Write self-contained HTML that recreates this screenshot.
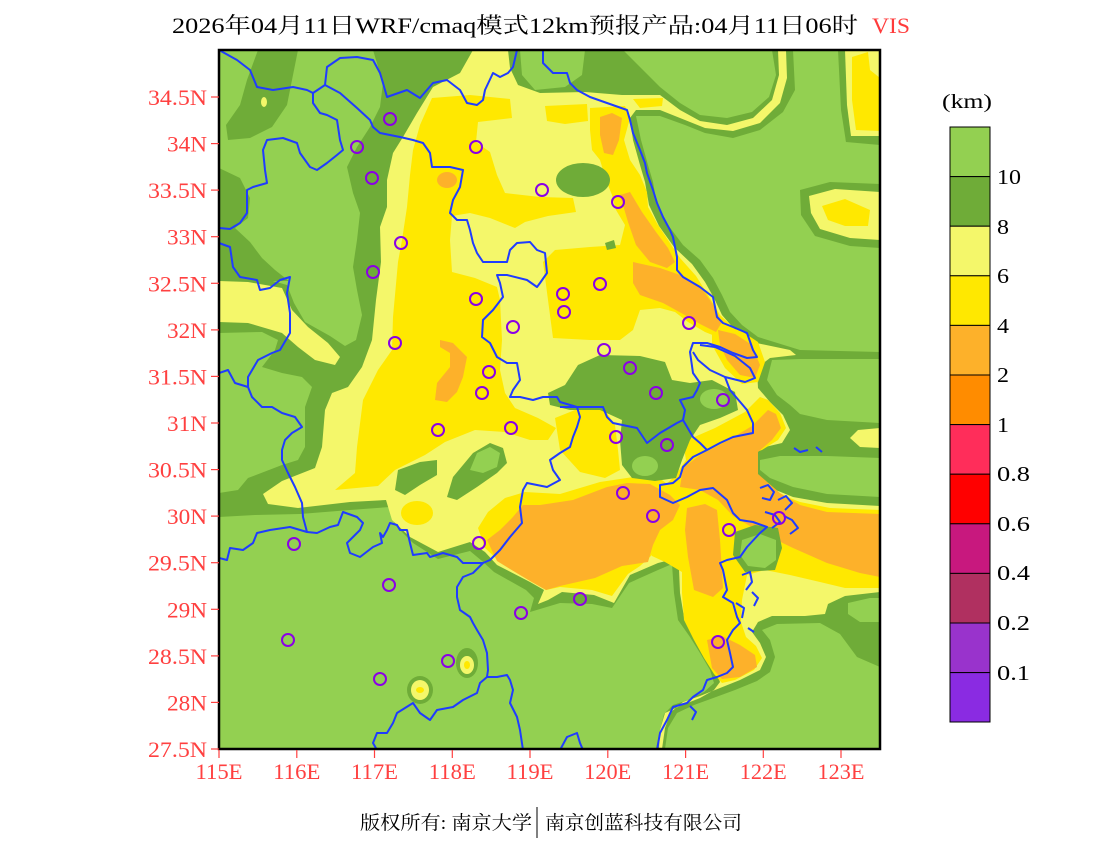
<!DOCTYPE html>
<html><head><meta charset="utf-8"><style>
html,body{margin:0;padding:0;background:#fff;}
svg{display:block;}
text{font-family:"Liberation Serif","Noto Serif CJK SC",serif;}
</style></head><body>
<svg width="1100" height="850" viewBox="0 0 1100 850" xmlns="http://www.w3.org/2000/svg">
<defs><clipPath id="pc"><rect x="219" y="50" width="661" height="699"/></clipPath></defs>
<g clip-path="url(#pc)">
<rect x="219" y="50" width="661" height="699" fill="#6fac38"/>
<g fill="#93d051">
<polygon points="219,50 373,50 383,83 380,107 370,127 357,147 347,167 353,193 360,213 357,240 353,267 357,290 362,315 356,340 345,346 330,336 305,322 294,303 287,285 262,278 219,278"/>
<polygon points="219,333 262,332 278,340 275,350 262,367 282,373 302,377 312,387 305,407 305,447 298,460 282,465 248,478 238,490 219,493"/>
<polygon points="219,517 255,515 300,514 350,510 390,507 395,525 413,543 438,559 470,551 482,561 494,572 526,590 534,598 530,612 560,603 592,604 612,608 629,583 658,570 672,564 674,593 678,620 690,637 700,653 710,670 714,683 704,692 688,700 673,705 664,714 660,730 656,749 219,749"/>
<polygon points="665,749 668,728 677,713 694,705 716,697 735,690 757,681 770,672 775,657 770,640 762,630 777,624 820,623 840,634 857,657 880,667 880,749"/>
<polygon points="636,116 660,116 685,125 705,133 733,138 760,130 783,112 795,90 793,50 840,50 841,80 843,110 846,142 880,145 880,352 800,350 758,337 742,325 730,312 722,295 713,278 700,260 683,245 668,225 657,205 653,182 648,165 641,140"/>
<polygon points="623,50 772,50 776,75 769,97 752,112 727,118 700,115 680,103 660,87"/>
<polygon points="520,50 585,50 582,75 565,87 535,90 522,75"/>
<polygon points="772,360 800,359 880,359 880,423 827,420 800,414 790,405 777,395 767,380"/>
<polygon points="760,460 780,456 827,456 880,458 880,497 827,494 793,487 770,478 760,470"/>
<polygon points="848,603 870,598 880,598 880,622 860,622 848,614"/>
</g>
<g fill="#6fac38">
<polygon points="258,50 298,50 293,75 287,105 272,127 250,138 228,140 226,125 240,105 247,80"/>
<polygon points="219,168 240,178 250,198 248,218 235,228 250,242 262,258 275,270 289,281 219,281"/>
<polygon points="838,50 880,50 880,142 846,142 841,110"/>
<polygon points="800,190 830,182 880,184 880,248 850,246 815,236 801,215"/>
<ellipse cx="420" cy="690" rx="13" ry="14"/>
<ellipse cx="467" cy="663" rx="11" ry="15"/>
</g>
<g fill="#f4f76a">
<polygon points="473,50 508,50 510,68 518,85 540,93 585,92 622,95 645,95 660,95 680,110 700,121 727,125 753,118 772,100 779,75 778,50 786,50 787,78 780,103 760,123 733,131 705,128 685,120 660,110 636,110 630,118 633,140 640,165 645,182 649,205 659,226 674,247 692,264 705,282 714,298 722,315 735,330 752,342 790,350 796,355 770,358 757,368 758,388 770,402 783,415 790,430 782,443 765,447 748,452 742,462 750,475 766,486 793,497 827,503 880,506 880,592 845,596 828,604 825,614 805,616 772,616 758,622 752,632 760,643 766,657 760,670 740,680 720,688 700,696 683,702 671,712 665,728 662,749 659,749 660,730 665,713 680,706 700,698 714,690 720,682 714,667 705,650 695,633 684,617 680,593 679,568 670,560 658,563 630,575 614,603 594,595 562,592 548,600 538,604 544,590 530,582 497,565 485,552 470,542 438,552 410,537 392,520 386,500 350,502 298,508 268,504 263,494 282,481 315,468 322,447 325,410 332,393 348,387 362,367 372,340 376,300 381,262 380,227 387,207 387,180 393,153 403,137 417,113 433,87 460,73"/>
<polygon points="219,281 248,282 282,288 292,310 308,327 328,343 340,357 335,365 315,360 298,347 282,333 248,323 219,322"/>
<polygon points="845,50 880,50 880,136 851,136 847,105"/>
<polygon points="809,196 835,189 880,192 880,240 850,238 820,229 811,213"/>
<polygon points="850,438 858,430 880,428 880,448 860,447"/>
<ellipse cx="420" cy="690" rx="9" ry="10"/>
<ellipse cx="467" cy="665" rx="7" ry="9"/>
<ellipse cx="264" cy="102" rx="3" ry="5"/>
</g>
<g fill="#ffe800">
<polygon points="432,98 470,95 510,99 512,118 478,122 476,142 490,152 497,175 505,193 540,197 573,198 576,212 548,216 525,222 515,228 490,218 470,213 452,216 450,240 452,272 475,278 497,287 500,300 502,340 500,370 505,393 515,408 538,418 556,428 548,440 530,440 505,432 475,430 445,442 425,455 395,470 378,486 335,490 355,473 357,447 363,400 378,370 392,350 393,317 398,262 402,240 407,207 410,175 413,150 420,125"/>
<polygon points="545,106 587,104 588,121 565,124 547,121"/>
<polygon points="633,99 663,98 662,106 640,108"/>
<polygon points="590,108 625,106 630,118 624,140 630,160 640,175 647,192 648,207 658,225 668,240 680,258 696,276 708,295 720,315 738,332 745,345 725,340 705,332 688,322 675,312 660,308 640,310 633,330 620,340 590,340 553,338 548,300 543,262 555,250 590,247 620,245 625,225 616,210 612,195 606,180 600,160 592,150 590,130"/>
<polygon points="712,325 740,330 758,342 765,362 758,382 742,384 725,368 712,345"/>
<polygon points="478,528 488,512 505,498 525,492 560,494 600,482 640,476 662,480 670,486 658,496 650,512 647,535 652,555 640,566 628,574 612,596 592,590 560,587 546,590 532,578 500,562 485,548"/>
<polygon points="555,418 575,410 605,410 615,425 618,450 620,470 605,478 580,472 560,450"/>
<polygon points="683,442 715,428 745,412 760,397 768,400 780,413 786,428 778,440 762,450 748,455 745,465 752,478 770,490 800,502 830,508 880,510 880,588 845,588 820,582 790,575 765,570 747,575 742,600 741,622 746,637 756,646 762,658 754,670 735,680 722,683 714,674 704,658 694,640 684,620 682,593 682,572 665,562 652,556 646,530 650,502 662,488 675,476 686,460"/>
<polygon points="852,57 868,52 870,70 880,78 880,131 856,130 852,100"/>
<polygon points="822,206 845,199 870,210 868,226 845,226 828,220"/>
<ellipse cx="417" cy="513" rx="16" ry="12"/>
<ellipse cx="420" cy="690" rx="4" ry="3"/>
<ellipse cx="467" cy="665" rx="3" ry="4"/>
</g>
<g fill="#fdb12a">
<polygon points="600,117 612,113 622,118 619,140 613,155 604,153 600,135"/>
<polygon points="620,195 630,192 642,212 656,232 668,248 675,262 667,268 650,262 636,245 628,222"/>
<polygon points="633,262 660,268 683,276 700,286 712,303 722,322 716,332 700,324 683,314 663,303 640,295 633,283"/>
<polygon points="718,330 735,334 752,345 760,365 755,378 740,375 727,360 720,345"/>
<ellipse cx="447" cy="180" rx="10" ry="8"/>
<polygon points="440,340 453,343 467,357 463,377 457,392 447,402 435,400 437,383 450,367 450,353 440,347"/>
<polygon points="487,540 500,530 512,518 523,505 540,505 573,500 607,487 627,483 650,484 670,495 680,505 673,520 660,530 653,545 648,562 622,566 595,578 560,586 546,590 530,581 510,569 497,561"/>
<polygon points="687,508 705,504 717,510 720,540 723,588 713,597 694,590 688,557 685,530"/>
<polygon points="683,468 700,455 727,441 752,426 768,410 776,414 781,428 772,440 758,452 758,474 780,493 800,505 827,512 880,514 880,577 860,573 827,563 793,548 760,532 733,516 718,500 700,490 680,487"/>
<polygon points="707,640 722,636 740,645 755,655 757,667 740,677 722,679 712,668"/>
</g>
<g fill="#6fac38">
<ellipse cx="583" cy="180" rx="27" ry="17"/>
<polygon points="605,243 614,240 616,248 607,250"/>
<polygon points="578,365 600,355 640,356 665,362 672,380 690,383 712,380 735,392 738,410 720,418 700,425 690,440 682,460 676,478 655,481 632,478 622,465 620,440 622,420 600,410 570,410 550,405 548,393 565,385"/>
<polygon points="398,470 420,462 437,460 437,475 420,485 405,495 395,490"/>
<polygon points="447,497 453,477 473,453 490,443 503,448 507,463 497,473 477,487 457,500"/>
<polygon points="735,532 755,525 778,528 782,548 775,570 745,572 733,555"/>
</g>
<g fill="#93d051">
<ellipse cx="645" cy="466" rx="13" ry="10"/>
<ellipse cx="714" cy="399" rx="14" ry="10"/>
<polygon points="470,470 477,453 490,447 500,453 497,467 483,473"/>
<polygon points="742,540 760,534 776,540 776,560 765,568 748,566 740,555"/>
</g>
<g fill="none" stroke="#1f3cff" stroke-width="2" stroke-linejoin="round">
<polyline points="219,50 237,60 250,70 257,87 273,90 293,87 307,90 313,93 325,85 327,67 340,58 357,57 373,60 380,73 383,83 387,97 407,90 420,98 433,83 447,80 460,90 467,103 477,105 483,100 485,90 493,73 500,77 508,73 513,67 517,50"/>
<polyline points="313,93 313,103 320,113 327,115 337,120 340,140 343,150 337,155 327,163 317,170 310,167 300,153 297,143 283,138 267,140 263,150 265,170 267,183 253,187 247,190 247,213 240,223 230,229 219,228"/>
<polyline points="325,85 340,93 357,108 370,120 373,127 380,133 400,137 413,140 423,143 430,153 432,167 450,167 463,170 460,187 453,200 450,213 457,220 467,220 470,230 473,243 477,253 483,262 507,262 510,250 517,243 530,242 537,250 545,253 547,273 540,283 537,287 527,280 507,275 497,275 500,283 503,297 493,310 483,320 482,337 490,343 497,357 507,363 517,363 520,380 513,390 510,397 520,397 533,400 543,397 557,397 560,402 577,407 580,417 577,427 573,437 570,447 560,453 550,460 553,470 560,480 547,487 527,483 523,490 520,507 522,523 510,537 500,550 490,560 483,563 473,573 463,577 457,587 457,597 460,610 470,617 473,623 477,630 483,640 487,653 488,670 487,677 497,677 507,675 510,680 513,690 510,703 517,717 520,730 523,750"/>
<polyline points="487,677 480,683 477,693 463,700 453,707 437,710 430,720 420,713 413,703 397,713 393,723 387,733 377,733 373,743 377,750"/>
<polyline points="483,563 463,563 457,557 443,553 430,557 427,553 413,555 410,543 407,530 400,530 397,525 390,523 387,530 383,537 380,533 382,543 373,547 360,557 350,553 347,543 353,537 360,530 363,523 357,517 343,512 338,525 330,527 317,533 307,532 290,527 270,530 257,533 253,543 243,550 230,548 227,560 219,558"/>
<polyline points="219,243 230,247 233,267 240,277 257,280 260,290 270,288 280,280 290,277 287,293 290,313 290,333 280,350 272,353 258,360 248,377 248,387 252,397 262,407 272,407 282,413 295,417 302,427 292,433 285,440 282,450 282,460 288,473 295,487 302,503 303,517 307,532"/>
<polyline points="219,373 228,370 235,383 248,387"/>
<polyline points="543,50 543,63 553,73 567,73 570,83 577,90 590,97 607,103 627,110 630,120 633,133 640,150 645,163 647,173 653,190 657,203 663,217 670,230 673,237 677,257 677,270 683,277 700,287 713,297 717,317 723,323 733,327 747,333 753,350 757,357 747,358 733,353 720,347 707,343 693,343 690,352 693,373 700,383 697,390 693,397 680,400 685,410 683,420 677,423 660,433 647,443 637,428 613,423 607,417 603,407 580,407 560,407"/>
<polyline points="700,345 715,347 735,356 750,368 755,378 745,382 725,377 710,370 698,360 693,352"/>
<polyline points="725,377 730,390 747,410 753,423 753,433 733,437 720,443 707,450 693,457 683,467 680,477 673,483 660,485 660,497 673,503 687,497 700,490 713,488 727,500 733,513 740,520 753,522 767,527 760,533 747,547 740,557 727,560 720,563 723,570 727,590 723,597 733,603 737,617 740,623 733,630 727,640 730,653 733,667 727,673 717,677 707,680 703,690 693,697 687,703 673,707 667,720 660,733 657,750"/>
<polyline points="683,420 693,437 700,443 707,450"/>
<polyline points="560,750 567,737 577,733 580,743 583,750"/>
<polyline points="760,488 768,485 774,492 770,500 762,498"/>
<polyline points="778,500 786,496 792,503 785,510"/>
<polyline points="765,512 775,515 780,522 772,528"/>
<polyline points="784,516 792,520 798,528 790,534"/>
<polyline points="794,448 800,452 808,450"/>
<polyline points="816,447 822,452"/>
<polyline points="742,575 750,572 752,582 746,590"/>
<polyline points="752,592 758,598 754,606"/>
<polyline points="736,603 744,608 742,618"/>
<polyline points="690,706 696,712 692,720"/>
<polyline points="748,628 754,632"/>
</g>
<g fill="none" stroke="#8a00e6" stroke-width="2">
<circle cx="390" cy="119" r="6"/><circle cx="357" cy="147" r="6"/><circle cx="372" cy="178" r="6"/><circle cx="476" cy="147" r="6"/>
<circle cx="542" cy="190" r="6"/><circle cx="618" cy="202" r="6"/><circle cx="401" cy="243" r="6"/><circle cx="373" cy="272" r="6"/>
<circle cx="476" cy="299" r="6"/><circle cx="600" cy="284" r="6"/><circle cx="563" cy="294" r="6"/><circle cx="564" cy="312" r="6"/>
<circle cx="513" cy="327" r="6"/><circle cx="395" cy="343" r="6"/><circle cx="689" cy="323" r="6"/><circle cx="604" cy="350" r="6"/>
<circle cx="630" cy="368" r="6"/><circle cx="489" cy="372" r="6"/><circle cx="482" cy="393" r="6"/><circle cx="656" cy="393" r="6"/>
<circle cx="723" cy="400" r="6"/><circle cx="438" cy="430" r="6"/><circle cx="511" cy="428" r="6"/><circle cx="616" cy="437" r="6"/>
<circle cx="667" cy="445" r="6"/><circle cx="623" cy="493" r="6"/><circle cx="653" cy="516" r="6"/><circle cx="729" cy="530" r="6"/>
<circle cx="779" cy="518" r="6"/><circle cx="294" cy="544" r="6"/><circle cx="479" cy="543" r="6"/><circle cx="389" cy="585" r="6"/>
<circle cx="580" cy="599" r="6"/><circle cx="521" cy="613" r="6"/><circle cx="288" cy="640" r="6"/><circle cx="718" cy="642" r="6"/>
<circle cx="448" cy="661" r="6"/><circle cx="380" cy="679" r="6"/>
</g>
</g>
<rect x="219" y="50" width="661" height="699" fill="none" stroke="#000" stroke-width="2.5"/>
<g stroke="#ff4040" stroke-width="1.2">
<line x1="211" y1="97" x2="219" y2="97"/><line x1="211" y1="143.6" x2="219" y2="143.6"/><line x1="211" y1="190.1" x2="219" y2="190.1"/>
<line x1="211" y1="236.7" x2="219" y2="236.7"/><line x1="211" y1="283.3" x2="219" y2="283.3"/><line x1="211" y1="329.9" x2="219" y2="329.9"/>
<line x1="211" y1="376.4" x2="219" y2="376.4"/><line x1="211" y1="423" x2="219" y2="423"/><line x1="211" y1="469.6" x2="219" y2="469.6"/>
<line x1="211" y1="516.1" x2="219" y2="516.1"/><line x1="211" y1="562.7" x2="219" y2="562.7"/><line x1="211" y1="609.3" x2="219" y2="609.3"/>
<line x1="211" y1="655.9" x2="219" y2="655.9"/><line x1="211" y1="702.4" x2="219" y2="702.4"/><line x1="211" y1="749" x2="219" y2="749"/>
<line x1="219" y1="750" x2="219" y2="758"/><line x1="296.8" y1="750" x2="296.8" y2="758"/><line x1="374.5" y1="750" x2="374.5" y2="758"/>
<line x1="452.3" y1="750" x2="452.3" y2="758"/><line x1="530" y1="750" x2="530" y2="758"/><line x1="607.8" y1="750" x2="607.8" y2="758"/>
<line x1="685.6" y1="750" x2="685.6" y2="758"/><line x1="763.3" y1="750" x2="763.3" y2="758"/><line x1="841" y1="750" x2="841" y2="758"/>
</g>
<g fill="#ff4040" font-size="22" text-anchor="end">
<text x="207" y="105" textLength="59" lengthAdjust="spacingAndGlyphs">34.5N</text>
<text x="207" y="151.6" textLength="40" lengthAdjust="spacingAndGlyphs">34N</text>
<text x="207" y="198.1" textLength="59" lengthAdjust="spacingAndGlyphs">33.5N</text>
<text x="207" y="244.7" textLength="40" lengthAdjust="spacingAndGlyphs">33N</text>
<text x="207" y="291.3" textLength="59" lengthAdjust="spacingAndGlyphs">32.5N</text>
<text x="207" y="337.9" textLength="40" lengthAdjust="spacingAndGlyphs">32N</text>
<text x="207" y="384.4" textLength="59" lengthAdjust="spacingAndGlyphs">31.5N</text>
<text x="207" y="431" textLength="40" lengthAdjust="spacingAndGlyphs">31N</text>
<text x="207" y="477.6" textLength="59" lengthAdjust="spacingAndGlyphs">30.5N</text>
<text x="207" y="524.1" textLength="40" lengthAdjust="spacingAndGlyphs">30N</text>
<text x="207" y="570.7" textLength="59" lengthAdjust="spacingAndGlyphs">29.5N</text>
<text x="207" y="617.3" textLength="40" lengthAdjust="spacingAndGlyphs">29N</text>
<text x="207" y="663.9" textLength="59" lengthAdjust="spacingAndGlyphs">28.5N</text>
<text x="207" y="710.4" textLength="40" lengthAdjust="spacingAndGlyphs">28N</text>
<text x="207" y="757" textLength="59" lengthAdjust="spacingAndGlyphs">27.5N</text>
</g>
<g fill="#ff4040" font-size="22" text-anchor="middle">
<text x="219" y="779" textLength="47" lengthAdjust="spacingAndGlyphs">115E</text>
<text x="296.8" y="779" textLength="47" lengthAdjust="spacingAndGlyphs">116E</text>
<text x="374.5" y="779" textLength="47" lengthAdjust="spacingAndGlyphs">117E</text>
<text x="452.3" y="779" textLength="47" lengthAdjust="spacingAndGlyphs">118E</text>
<text x="530" y="779" textLength="47" lengthAdjust="spacingAndGlyphs">119E</text>
<text x="607.8" y="779" textLength="47" lengthAdjust="spacingAndGlyphs">120E</text>
<text x="685.6" y="779" textLength="47" lengthAdjust="spacingAndGlyphs">121E</text>
<text x="763.3" y="779" textLength="47" lengthAdjust="spacingAndGlyphs">122E</text>
<text x="841" y="779" textLength="47" lengthAdjust="spacingAndGlyphs">123E</text>
</g>
<text x="172" y="33" font-size="22" fill="#000" textLength="686" lengthAdjust="spacingAndGlyphs">2026年04月11日WRF/cmaq模式12km预报产品:04月11日06时</text>
<text x="872" y="33" font-size="22" fill="#ff3b3b" textLength="38" lengthAdjust="spacingAndGlyphs">VIS</text>
<text x="942" y="108" font-size="20" fill="#000" textLength="50" lengthAdjust="spacingAndGlyphs">(km)</text>
<g stroke="#000" stroke-width="1">
<rect x="950" y="127" width="40" height="49.6" fill="#93d051"/>
<rect x="950" y="176.6" width="40" height="49.6" fill="#6fac38"/>
<rect x="950" y="226.2" width="40" height="49.6" fill="#f4f76a"/>
<rect x="950" y="275.8" width="40" height="49.6" fill="#ffe800"/>
<rect x="950" y="325.4" width="40" height="49.6" fill="#fdb12a"/>
<rect x="950" y="375" width="40" height="49.6" fill="#ff8c00"/>
<rect x="950" y="424.6" width="40" height="49.6" fill="#ff2d5a"/>
<rect x="950" y="474.2" width="40" height="49.6" fill="#ff0000"/>
<rect x="950" y="523.8" width="40" height="49.6" fill="#c8187e"/>
<rect x="950" y="573.4" width="40" height="49.6" fill="#b03060"/>
<rect x="950" y="623" width="40" height="49.6" fill="#9933cc"/>
<rect x="950" y="672.6" width="40" height="49.4" fill="#8a2be2"/>
</g>
<g fill="#000" font-size="21">
<text x="997" y="184" textLength="24" lengthAdjust="spacingAndGlyphs">10</text>
<text x="997" y="234" textLength="12" lengthAdjust="spacingAndGlyphs">8</text>
<text x="997" y="283" textLength="12" lengthAdjust="spacingAndGlyphs">6</text>
<text x="997" y="333" textLength="12" lengthAdjust="spacingAndGlyphs">4</text>
<text x="997" y="382" textLength="12" lengthAdjust="spacingAndGlyphs">2</text>
<text x="997" y="432" textLength="12" lengthAdjust="spacingAndGlyphs">1</text>
<text x="997" y="481" textLength="33" lengthAdjust="spacingAndGlyphs">0.8</text>
<text x="997" y="531" textLength="33" lengthAdjust="spacingAndGlyphs">0.6</text>
<text x="997" y="580" textLength="33" lengthAdjust="spacingAndGlyphs">0.4</text>
<text x="997" y="630" textLength="33" lengthAdjust="spacingAndGlyphs">0.2</text>
<text x="997" y="680" textLength="33" lengthAdjust="spacingAndGlyphs">0.1</text>
</g>
<text x="360" y="829" font-size="19" fill="#000" textLength="172" lengthAdjust="spacingAndGlyphs">版权所有: 南京大学</text>
<line x1="537" y1="807" x2="537" y2="838" stroke="#000" stroke-width="1"/>
<text x="545" y="829" font-size="19" fill="#000" textLength="197" lengthAdjust="spacingAndGlyphs">南京创蓝科技有限公司</text>
</svg>
</body></html>
